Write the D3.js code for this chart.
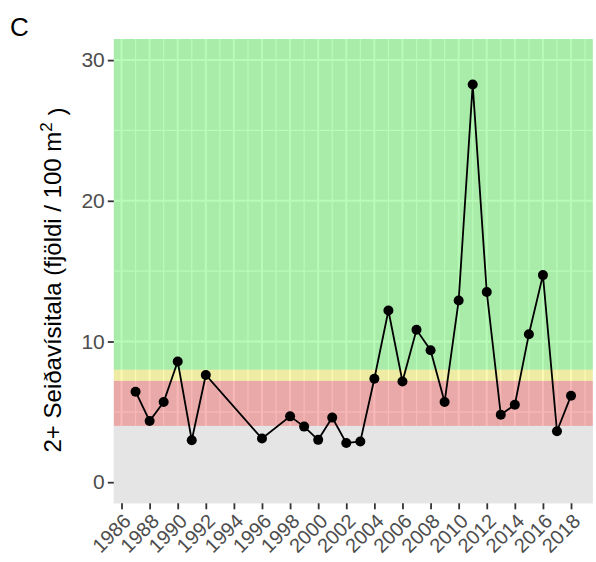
<!DOCTYPE html>
<meta charset="utf-8">
<style>
  body { margin: 0; background: white; }
  text { font-family: "Liberation Sans", Arial, sans-serif; }
</style>
<body>
<div id="chart"></div>
<script src="https://d3js.org/d3.v7.min.js"></script>
<script>

var years  = [1987, 1988, 1989, 1990, 1991, 1992, 1996, 1998, 1999, 2000, 2001, 2002, 2003, 2004,
              2005, 2006, 2007, 2008, 2009, 2010, 2011, 2012, 2013, 2014, 2015, 2016, 2017, 2018];
var values = [6.43, 4.35, 5.70, 8.58, 2.98, 7.62, 3.10, 4.68, 3.95, 3.01, 4.59, 2.79, 2.89, 7.35,
              12.2, 7.16, 10.83, 9.38, 5.70, 12.91, 28.26, 13.52, 4.8, 5.51, 10.52, 14.72, 3.62, 6.15];

// background bands (lower / upper limits)
var bandLow   = [-Infinity, 4, 7.2, 8];
var bandHigh  = [4, 7.2, 8, Infinity];
var bandColor = ["#E5E5E5", "rgba(235,0,0,0.28)", "rgba(245,235,0,0.3)", "rgba(0,240,0,0.28)"];

var xTicks = d3.range(1986, 2019, 2);
var yTicks = [0, 10, 20, 30];

var W = 596, H = 562;
var panel = {left: 113.8, right: 592.8, top: 39, bottom: 503.3};

var svg = d3.select("#chart").append("svg")
    .attr("width", W)
    .attr("height", H);

var x = d3.scaleLinear()
    .domain([1985.45, 2019.55])
    .range([panel.left, panel.right]);

var y = d3.scaleLinear()
    .domain([-1.5, 31.5])
    .range([panel.bottom, panel.top]);

// panel background
svg.append("rect")
    .attr("x", panel.left).attr("y", panel.top)
    .attr("width", panel.right - panel.left)
    .attr("height", panel.bottom - panel.top)
    .attr("fill", "#EBEBEB");

// grid lines
var grid = svg.append("g");
d3.range(1985, 2021, 1).filter(function(d) { return x(d) > panel.left && x(d) < panel.right; })
  .forEach(function(d) {
    grid.append("line")
      .attr("x1", x(d)).attr("x2", x(d))
      .attr("y1", panel.top).attr("y2", panel.bottom)
      .attr("stroke", "white")
      .attr("stroke-width", d % 2 == 0 ? 2 : 1.2);
  });
d3.range(0, 31, 5).forEach(function(d) {
    grid.append("line")
      .attr("x1", panel.left).attr("x2", panel.right)
      .attr("y1", y(d)).attr("y2", y(d))
      .attr("stroke", "white")
      .attr("stroke-width", d % 10 == 0 ? 2 : 1.2);
});

// coloured bands
svg.append("g").selectAll("rect")
  .data(bandLow)
  .enter().append("rect")
    .attr("x", panel.left)
    .attr("width", panel.right - panel.left)
    .attr("y", function(d, i) { return isFinite(bandHigh[i]) ? y(bandHigh[i]) : panel.top; })
    .attr("height", function(d, i) {
      var top = isFinite(bandHigh[i]) ? y(bandHigh[i]) : panel.top;
      var bot = isFinite(d) ? y(d) : panel.bottom;
      return bot - top;
    })
    .attr("fill", function(d, i) { return bandColor[i]; });

// axes
var yAxis = svg.append("g")
    .attr("transform", "translate(" + panel.left + ",0)")
    .call(d3.axisLeft(y).tickValues(yTicks).tickSize(6).tickPadding(3));
yAxis.select(".domain").remove();
yAxis.selectAll("line").attr("stroke", "#333333").attr("stroke-width", 1.8);
yAxis.selectAll("text")
    .attr("fill", "#4D4D4D")
    .style("font-size", "21px")
    .style("font-family", "Liberation Sans, Arial, sans-serif");

var xAxis = svg.append("g")
    .attr("transform", "translate(0," + panel.bottom + ")")
    .call(d3.axisBottom(x).tickValues(xTicks).tickFormat(d3.format("d")).tickSize(6));
xAxis.select(".domain").remove();
xAxis.selectAll("line").attr("stroke", "#333333").attr("stroke-width", 1.8);
xAxis.selectAll("text")
    .attr("fill", "#4D4D4D")
    .style("font-size", "20px")
    .style("font-family", "Liberation Sans, Arial, sans-serif")
    .attr("text-anchor", "end")
    .attr("y", 0).attr("dy", "0.72em")
    .attr("transform", "translate(0,9) rotate(-45)");

// line + points
var pts = years.map(function(d, i) { return [d, values[i]]; });
svg.append("path")
    .datum(pts)
    .attr("fill", "none")
    .attr("stroke", "black")
    .attr("stroke-width", 1.8)
    .attr("d", d3.line()
      .x(function(d) { return x(d[0]); })
      .y(function(d) { return y(d[1]); }));

svg.append("g").selectAll("circle")
  .data(pts)
  .enter().append("circle")
    .attr("cx", function(d) { return x(d[0]); })
    .attr("cy", function(d) { return y(d[1]); })
    .attr("r", 5)
    .attr("fill", "black");

// y title
var yt = svg.append("text")
    .attr("transform", "translate(61,280) rotate(-90)")
    .attr("text-anchor", "middle")
    .attr("fill", "black")
    .style("font-size", "24px");
yt.append("tspan").text("2+ Seiðavísitala (fjöldi / 100 m");
yt.append("tspan").attr("dy", "-0.55em").style("font-size", "17px").text("2");
yt.append("tspan").attr("dy", "0.55em").text(" )");

// panel letter
svg.append("text")
    .attr("x", 10).attr("y", 36)
    .attr("fill", "black")
    .style("font-size", "26px")
    .text("C");

</script>
</body>
